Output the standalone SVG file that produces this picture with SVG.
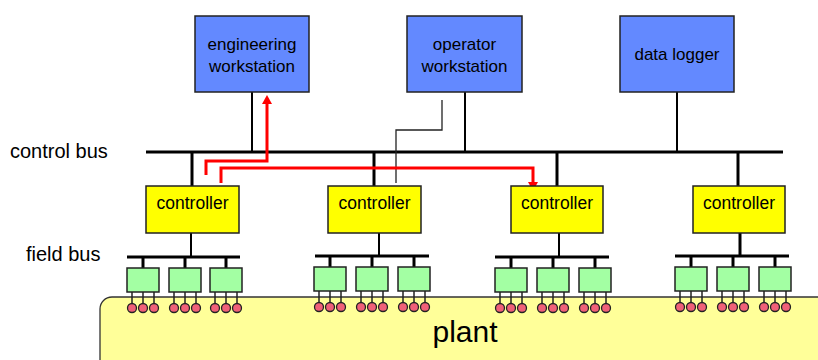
<svg xmlns="http://www.w3.org/2000/svg" width="818" height="360" viewBox="0 0 818 360">
<style>
text{font-family:"Liberation Sans",Arial,sans-serif;fill:#000}
.ws{fill:#6389FF;stroke:#222;stroke-width:1.5}
.ctl{fill:#FFFF00;stroke:#222;stroke-width:1.5}
.dev{fill:#A3FFA3;stroke:#222;stroke-width:1.5}
.pin{fill:#F06078;stroke:#222;stroke-width:1.3}
.bus{stroke:#000;stroke-width:3;fill:none}
.thin{stroke:#000;stroke-width:2;fill:none}
.leg{stroke:#222;stroke-width:1.5}
.red{stroke:#FF0000;stroke-width:3;fill:none}
</style>
<defs>
<g id="dev">
<line class="leg" x1="5" y1="24" x2="5" y2="40"/>
<line class="leg" x1="16" y1="24" x2="16" y2="40"/>
<line class="leg" x1="27" y1="24" x2="27" y2="40"/>
<rect class="dev" x="0" y="0" width="32" height="24"/>
</g>
<g id="pins">
<circle class="pin" cx="5" cy="40" r="4.5"/>
<circle class="pin" cx="16" cy="40" r="4.5"/>
<circle class="pin" cx="27" cy="40" r="4.5"/>
</g>
</defs>
<g id="plant">
<rect x="100" y="297" width="740" height="90" rx="12" fill="#FFFF99" stroke="#333" stroke-width="1.3"/>
<text x="465" y="342" font-size="30" text-anchor="middle">plant</text>
</g>
<g id="labels">
<text x="10" y="158" font-size="20">control bus</text>
<text x="26" y="261" font-size="20">field bus</text>
</g>
<g id="connectors">
<line class="bus" x1="146" y1="152" x2="783" y2="152"/>
<line class="thin" x1="252" y1="92" x2="252" y2="152"/>
<line class="thin" x1="465" y1="92" x2="465" y2="152"/>
<line class="thin" x1="677" y1="92" x2="677" y2="152"/>
<polyline points="442,100 442,130 396,130 396,183" fill="none" stroke="#222" stroke-width="1.3"/>
<line class="bus" x1="192" y1="152" x2="192" y2="186"/>
<line class="bus" x1="374" y1="152" x2="374" y2="186"/>
<line class="bus" x1="557" y1="152" x2="557" y2="186"/>
<line class="bus" x1="738" y1="152" x2="738" y2="186"/>
<line class="thin" x1="191" y1="233" x2="191" y2="257"/>
<line class="thin" x1="379" y1="233" x2="379" y2="256"/>
<line class="thin" x1="559" y1="233" x2="559" y2="257"/>
<line class="bus" x1="740" y1="233" x2="740" y2="256"/>
<line class="bus" x1="127" y1="257" x2="240" y2="257"/>
<line class="bus" x1="315" y1="256" x2="429" y2="256"/>
<line class="bus" x1="495" y1="257" x2="609" y2="257"/>
<line class="bus" x1="675" y1="256" x2="789" y2="256"/>
<g class="bus">
<line x1="143" y1="257" x2="143" y2="268"/><line x1="185" y1="257" x2="185" y2="268"/><line x1="226" y1="257" x2="226" y2="268"/>
<line x1="330" y1="256" x2="330" y2="267"/><line x1="372" y1="256" x2="372" y2="267"/><line x1="414" y1="256" x2="414" y2="267"/>
<line x1="511" y1="257" x2="511" y2="268"/><line x1="553" y1="257" x2="553" y2="268"/><line x1="595" y1="257" x2="595" y2="268"/>
<line x1="691" y1="256" x2="691" y2="267"/><line x1="733" y1="256" x2="733" y2="267"/><line x1="775" y1="256" x2="775" y2="267"/>
</g>
<polyline class="red" points="206,175 206,161 267,161 267,104"/>
<polygon points="262,104 272,104 267,95" fill="#FF0000"/>
<polyline class="red" points="221,183 221,168 533,168 533,182"/>
<polygon points="528,182 538,182 533,191" fill="#FF0000"/>
</g>
<g id="engineering-workstation">
<rect class="ws" x="195" y="16" width="114" height="76"/>
<text x="252" y="50" font-size="17" text-anchor="middle">engineering</text>
<text x="252" y="72" font-size="17" text-anchor="middle">workstation</text>
</g>
<g id="operator-workstation">
<rect class="ws" x="407" y="16" width="115" height="76"/>
<text x="464.5" y="50" font-size="17" text-anchor="middle">operator</text>
<text x="464.5" y="72" font-size="17" text-anchor="middle">workstation</text>
</g>
<g id="data-logger">
<rect class="ws" x="620" y="16" width="114" height="76"/>
<text x="677" y="60" font-size="17" text-anchor="middle">data logger</text>
</g>
<g id="controller-1"><rect class="ctl" x="146" y="186" width="93" height="47"/><text x="192.5" y="209" font-size="17.5" text-anchor="middle">controller</text></g>
<g id="controller-2"><rect class="ctl" x="328" y="186" width="93" height="47"/><text x="374.5" y="209" font-size="17.5" text-anchor="middle">controller</text></g>
<g id="controller-3"><rect class="ctl" x="511" y="186" width="92" height="47"/><text x="557" y="209" font-size="17.5" text-anchor="middle">controller</text></g>
<g id="controller-4"><rect class="ctl" x="693" y="186" width="92" height="47"/><text x="739" y="209" font-size="17.5" text-anchor="middle">controller</text></g>
<g id="field-devices-1">
<use href="#dev" x="127" y="268"/><use href="#dev" x="169" y="268"/><use href="#dev" x="210" y="268"/>
<use href="#pins" x="127" y="268"/><use href="#pins" x="169" y="268"/><use href="#pins" x="210" y="268"/>
</g>
<g id="field-devices-2">
<use href="#dev" x="314" y="267"/><use href="#dev" x="356" y="267"/><use href="#dev" x="398" y="267"/>
<use href="#pins" x="314" y="267"/><use href="#pins" x="356" y="267"/><use href="#pins" x="398" y="267"/>
</g>
<g id="field-devices-3">
<use href="#dev" x="495" y="268"/><use href="#dev" x="537" y="268"/><use href="#dev" x="579" y="268"/>
<use href="#pins" x="495" y="268"/><use href="#pins" x="537" y="268"/><use href="#pins" x="579" y="268"/>
</g>
<g id="field-devices-4">
<use href="#dev" x="675" y="267"/><use href="#dev" x="717" y="267"/><use href="#dev" x="759" y="267"/>
<use href="#pins" x="675" y="267"/><use href="#pins" x="717" y="267"/><use href="#pins" x="759" y="267"/>
</g>
</svg>
